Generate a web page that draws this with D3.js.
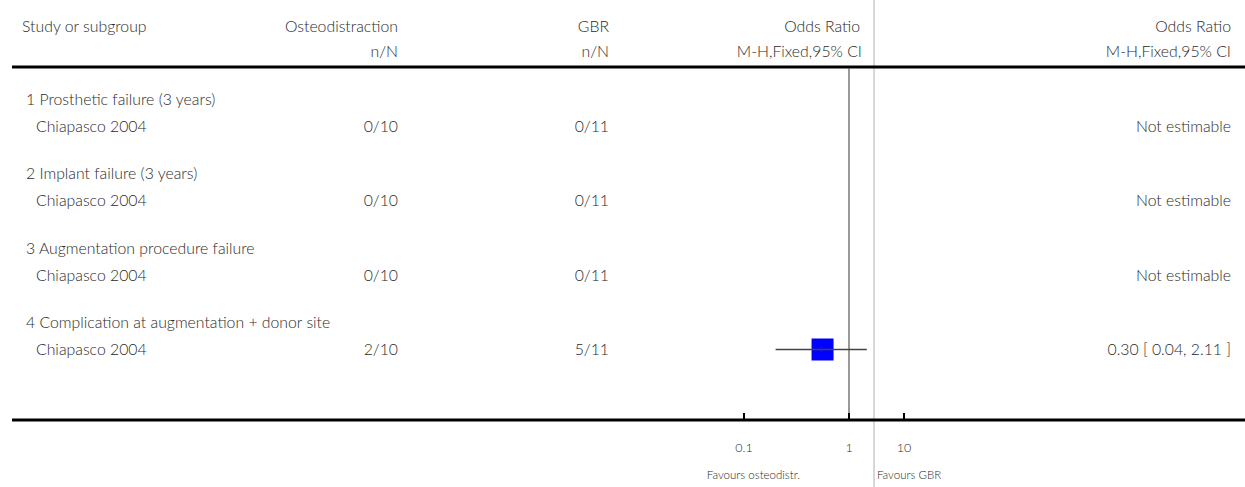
<!DOCTYPE html>
<html>
<head>
<meta charset="utf-8">
<script src="https://cdn.jsdelivr.net/npm/d3@7"></script>
<style>
  body { margin: 0; background: #fff; }
  text { font-family: Lato, "Open Sans", sans-serif; font-weight: 300; fill: #2a2a2a; }
</style>
</head>
<body>
<svg id="plotSVG" width="1245" height="487"></svg>
<script>
// groups and their single study
let groupNames = [
  "1 Prosthetic failure (3 years)",
  "2 Implant failure (3 years)",
  "3 Augmentation procedure failure",
  "4 Complication at augmentation + donor site"
]
let studyNames = ["Chiapasco 2004", "Chiapasco 2004", "Chiapasco 2004", "Chiapasco 2004"]
let osteoEvents = ["0/10", "0/10", "0/10", "2/10"]
let gbrEvents   = ["0/11", "0/11", "0/11", "5/11"]
let orValue = [null, null, null, 0.30]
let ciLow   = [null, null, null, 0.04]
let ciHigh  = [null, null, null, 2.11]
let orText  = ["Not estimable", "Not estimable", "Not estimable", "0.30 [ 0.04, 2.11 ]"]

// axis
let tickValues = [0.01, 1, 10]
let tickLabels = ["0.1", "1", "10"]

let svg = d3.select("#plotSVG")

let xScale = d3.scaleLog()
  .domain([0.01, 1, 10])
  .range([744, 849, 904])

let rowY = d3.scaleLinear().domain([0, 1]).range([99, 173.5])  // group header rows
let studyOffset = 27
let fs = "15.8px"

// light grey line that runs the full height
svg.append("line")
  .attr("x1", 874).attr("x2", 874)
  .attr("y1", 0).attr("y2", 487)
  .attr("stroke", "#d8d8d8")
  .attr("stroke-width", 2)

// column headers
let headers = [
  {t: "Study or subgroup", x: 22, y: 26, a: "start"},
  {t: "Osteodistraction", x: 398, y: 26, a: "end"},
  {t: "n/N", x: 398, y: 51, a: "end"},
  {t: "GBR", x: 609, y: 26, a: "end"},
  {t: "n/N", x: 609, y: 51, a: "end"},
  {t: "Odds Ratio", x: 860, y: 26, a: "end"},
  {t: "M-H,Fixed,95% CI", x: 862, y: 51, a: "end"},
  {t: "Odds Ratio", x: 1231, y: 26, a: "end"},
  {t: "M-H,Fixed,95% CI", x: 1231, y: 51, a: "end"}
]
svg.selectAll(".hdr")
  .data(headers)
  .join("text")
  .attr("class", "hdr")
  .attr("x", d => d.x)
  .attr("y", d => d.y)
  .attr("dy", "0.35em")
  .attr("text-anchor", d => d.a)
  .style("font-size", fs)
  .text(d => d.t)

// top rule
svg.append("line")
  .attr("x1", 12).attr("x2", 1245)
  .attr("y1", 67).attr("y2", 67)
  .attr("stroke", "#000")
  .attr("stroke-width", 3)

// null line at OR = 1
svg.append("line")
  .attr("x1", xScale(1)).attr("x2", xScale(1))
  .attr("y1", 68).attr("y2", 420)
  .attr("stroke", "#555")
  .attr("stroke-width", 1.2)

let rows = groupNames.map((g, i) => ({
  i: i, group: g, study: studyNames[i], a: osteoEvents[i], b: gbrEvents[i],
  or: orValue[i], lo: ciLow[i], hi: ciHigh[i], txt: orText[i]
}))

let row = svg.selectAll(".row")
  .data(rows)
  .join("g")
  .attr("class", "row")

row.append("text")
  .attr("x", 26)
  .attr("y", d => rowY(d.i))
  .attr("dy", "0.35em")
  .style("font-size", fs)
  .text(d => d.group)

let sy = d => rowY(d.i) + studyOffset

row.append("text")
  .attr("x", 36).attr("y", sy).attr("dy", "0.35em")
  .style("font-size", fs)
  .text(d => d.study)

row.append("text")
  .attr("x", 398).attr("y", sy).attr("dy", "0.35em")
  .attr("text-anchor", "end")
  .style("font-size", fs)
  .text(d => d.a)

row.append("text")
  .attr("x", 609).attr("y", sy).attr("dy", "0.35em")
  .attr("text-anchor", "end")
  .style("font-size", fs)
  .text(d => d.b)

row.append("text")
  .attr("x", 1231).attr("y", sy).attr("dy", "0.35em")
  .attr("text-anchor", "end")
  .style("font-size", fs)
  .text(d => d.txt)

// estimates
let est = rows.filter(d => d.or != null)
let boxSize = 22

svg.selectAll(".box")
  .data(est)
  .join("rect")
  .attr("class", "box")
  .attr("x", d => xScale(d.or) - boxSize / 2 + 1)
  .attr("y", d => sy(d) - boxSize / 2)
  .attr("width", boxSize)
  .attr("height", boxSize)
  .attr("fill", "#0000ff")

svg.selectAll(".ci")
  .data(est)
  .join("line")
  .attr("class", "ci")
  .attr("x1", d => xScale(d.lo))
  .attr("x2", d => xScale(d.hi))
  .attr("y1", d => sy(d))
  .attr("y2", d => sy(d))
  .attr("stroke", "#444")
  .attr("stroke-width", 1.5)

svg.selectAll(".mid")
  .data(est)
  .join("line")
  .attr("class", "mid")
  .attr("x1", d => xScale(d.or))
  .attr("x2", d => xScale(d.or))
  .attr("y1", d => sy(d) - 3)
  .attr("y2", d => sy(d) + 2)
  .attr("stroke", "#333")
  .attr("stroke-width", 1)

// bottom axis
svg.append("line")
  .attr("x1", 12).attr("x2", 1245)
  .attr("y1", 420).attr("y2", 420)
  .attr("stroke", "#000")
  .attr("stroke-width", 3)

svg.selectAll(".tick")
  .data(tickValues)
  .join("line")
  .attr("class", "tick")
  .attr("x1", d => xScale(d)).attr("x2", d => xScale(d))
  .attr("y1", 413).attr("y2", 420)
  .attr("stroke", "#000")
  .attr("stroke-width", 2)

svg.selectAll(".tlab")
  .data(tickValues)
  .join("text")
  .attr("class", "tlab")
  .attr("x", d => xScale(d))
  .attr("y", 448)
  .attr("dy", "0.35em")
  .attr("text-anchor", "middle")
  .style("font-size", "12.5px")
  .text((d, i) => tickLabels[i])

svg.append("text")
  .attr("x", 800).attr("y", 475).attr("dy", "0.35em")
  .attr("text-anchor", "end")
  .style("font-size", "11.5px")
  .text("Favours osteodistr.")

svg.append("text")
  .attr("x", 877).attr("y", 475).attr("dy", "0.35em")
  .style("font-size", "11.5px")
  .text("Favours GBR")
</script>
</body>
</html>
